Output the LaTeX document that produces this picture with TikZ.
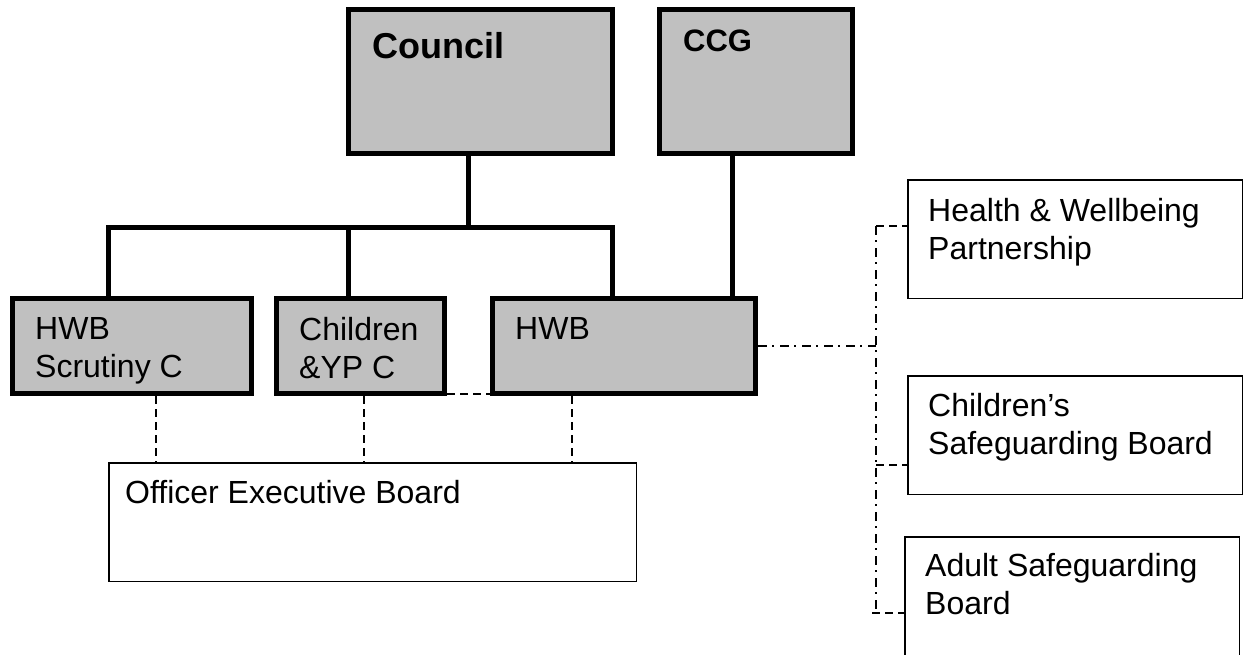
\documentclass[tikz,border=0pt]{standalone}
\usepackage{fontspec}
\setmainfont{Liberation Sans}
\definecolor{boxgray}{HTML}{C0C0C0}

\begin{document}
\begin{tikzpicture}[x=1pt, y=-1pt,
    body/.style = {draw, fill=boxgray, line width=5pt, inner sep=0pt, anchor=north west, minimum height=95pt},
    board/.style = {draw, fill=white, line width=1.5pt, inner sep=0pt, anchor=north west, minimum width=334.5pt, minimum height=118.5pt},
    txt/.style = {anchor=north west, inner sep=0pt, align=left, font=\fontsize{32}{38}\selectfont},
    head/.style = {txt, font=\bfseries\fontsize{#1}{44}\selectfont},
    link/.style = {line width=5pt},
    dashlink/.style = {line width=1.5pt, dash pattern=on 8pt off 5pt},
    dotlink/.style = {line width=1.5pt, dash pattern=on 9pt off 5pt on 2pt off 6pt}]
  \useasboundingbox (0,0) rectangle (1244,654);
  \clip (0,0) rectangle (1244,654);

  % top level
  \node[body, minimum width=264pt, minimum height=144pt,
        label={[head=36, xshift=26pt, yshift=-25pt]north west:Council}] (council) at (346,7) {};
  \node[body, minimum width=193pt, minimum height=144pt,
        label={[head=31, xshift=26pt, yshift=-23pt]north west:CCG}] (ccg) at (657,7) {};

  % committees
  \node[body, minimum width=239pt,
        label={[txt, xshift=25pt, yshift=-21pt]north west:HWB\\Scrutiny C}] (scrutiny) at (10,296) {};
  \node[body, minimum width=168pt,
        label={[txt, xshift=25pt, yshift=-21pt]north west:Children\\\&YP C}] (children) at (274,296) {};
  \node[body, minimum width=263pt,
        label={[txt, xshift=25pt, yshift=-21pt]north west:HWB}] (hwb) at (490,296) {};

  \node[board, minimum width=527.5pt,
        label={[txt, xshift=17pt, yshift=-18pt]north west:Officer Executive Board}] (oeb) at (108,462) {};

  % partnership boards
  \node[board, label={[txt, xshift=21pt, yshift=-19pt]north west:Health \& Wellbeing\\Partnership}] (hwp) at (907,179) {};
  \node[board, label={[txt, xshift=21pt, yshift=-18pt]north west:Children’s\\Safeguarding Board}] (csb) at (907,375) {};
  \node[board, minimum height=140pt,
        label={[txt, xshift=21pt, yshift=-17pt]north west:Adult Safeguarding\\Board}] (asb) at (904,536) {};

  \coordinate (jn) at (468,227);
  \coordinate (lft) at (108,227);
  \coordinate (mid) at (348,227);
  \coordinate (rgt) at (612,227);
  \coordinate (up) at (732,0);
  \draw[link] (council.south -| jn) -- (jn);
  \draw[link] (scrutiny.north -| lft) -- (lft) -- (rgt) -- (hwb.north -| rgt);
  \draw[link] (mid) -- (children.north -| mid);
  \draw[link] (ccg.south -| up) -- (hwb.north -| up);

  \coordinate (d1) at (156,0);
  \coordinate (d2) at (364,0);
  \coordinate (d3) at (572,0);
  \draw[dashlink] (scrutiny.south -| d1) -- (oeb.north -| d1);
  \draw[dashlink] (children.south -| d2) -- (oeb.north -| d2);
  \draw[dashlink] (hwb.south -| d3) -- (oeb.north -| d3);
  \draw[dashlink] ([yshift=2pt]children.south east) -- ([yshift=2pt]hwb.south west);

  \coordinate (r1) at (876,226);
  \coordinate (r2) at (876,465);
  \coordinate (r3) at (876,613);
  \draw[dotlink] (hwb.east) -- (hwb.east -| r1);
  \draw[dotlink] (r1) -- (r3);
  \draw[dashlink] (r1) -- (hwp.west |- r1);
  \draw[dashlink] (r2) -- (csb.west |- r2);
  \draw[dashlink] ([xshift=-4pt]r3) -- (asb.west |- r3);
\end{tikzpicture}
\end{document}
